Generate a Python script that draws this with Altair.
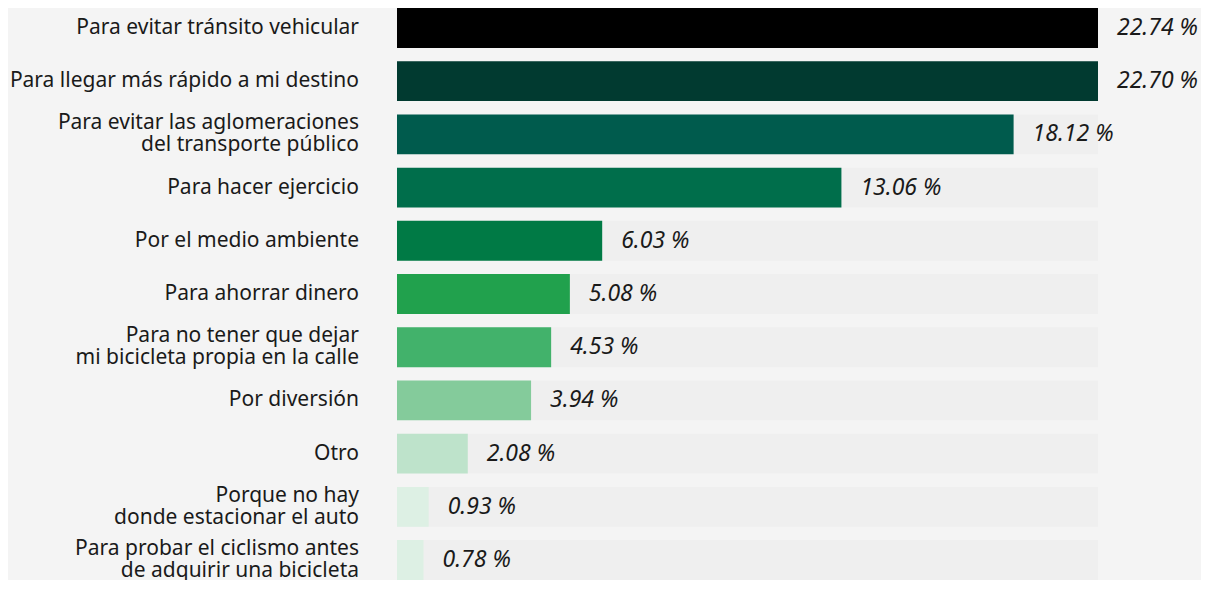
import altair as alt
import pandas as pd

categories = [
    "Para evitar tránsito vehicular",
    "Para llegar más rápido a mi destino",
    "Para evitar las aglomeraciones\ndel transporte público",
    "Para hacer ejercicio",
    "Por el medio ambiente",
    "Para ahorrar dinero",
    "Para no tener que dejar\nmi bicicleta propia en la calle",
    "Por diversión",
    "Otro",
    "Porque no hay\ndonde estacionar el auto",
    "Para probar el ciclismo antes\nde adquirir una bicicleta",
]
values = [22.74, 22.70, 18.12, 13.06, 6.03, 5.08, 4.53, 3.94, 2.08, 0.93, 0.78]
colors = [
    "#000000", "#013a30", "#005b4d", "#006e4b", "#007a45", "#21a14d",
    "#42b26b", "#84cb9b", "#bee3cb", "#ddf0e4", "#ddf0e4",
]
XMAX = 20.6

df = pd.DataFrame({
    "cat": categories,
    "value": values,
    "label": [f"{v:.2f} %" for v in values],
})

xscale = alt.Scale(domain=[0, XMAX], clamp=True, nice=False, zero=True)
yenc = alt.Y(
    "cat:N",
    sort=categories,
    scale=alt.Scale(paddingInner=0.25, paddingOuter=0),
    axis=None,
)

base = alt.Chart(df)

track = base.mark_bar(color="#efefef").encode(
    x=alt.X("max_x:Q", scale=xscale, axis=None),
    y=yenc,
).transform_calculate(max_x=str(XMAX))

bars = base.mark_bar().encode(
    x=alt.X("value:Q", scale=xscale, axis=None),
    y=yenc,
    color=alt.Color("cat:N", scale=alt.Scale(domain=categories, range=colors), legend=None),
)

text = base.mark_text(
    align="left", baseline="middle", dx=19, fontSize=23, font="Noto Sans",
    fontStyle="italic", color="#1a1a1a",
).encode(
    x=alt.X("value:Q", scale=xscale, axis=None),
    y=yenc,
    text="label:N",
)

label_style = dict(
    align="right", baseline="middle", fontSize=21, font="Noto Sans",
    color="#1a1a1a", lineBreak="\n", lineHeight=22,
)

labels_one = base.mark_text(**label_style).encode(
    x=alt.value(-38),
    y=yenc,
    text="cat:N",
).transform_filter("indexof(datum.cat, '\\n') < 0")

labels_two = base.mark_text(dy=-11, **label_style).encode(
    x=alt.value(-38),
    y=yenc,
    text="cat:N",
).transform_filter("indexof(datum.cat, '\\n') >= 0")

chart = alt.layer(track, bars, text, labels_one, labels_two).properties(
    width=701,
    height=572,
    padding={"left": 389, "top": 0, "right": 103, "bottom": 0},
    autosize=alt.AutoSizeParams(type="none"),
    background="#f4f4f4",
).configure_view(stroke=None)

chart.save("out.html", embed_options={"renderer": "svg", "actions": False})
